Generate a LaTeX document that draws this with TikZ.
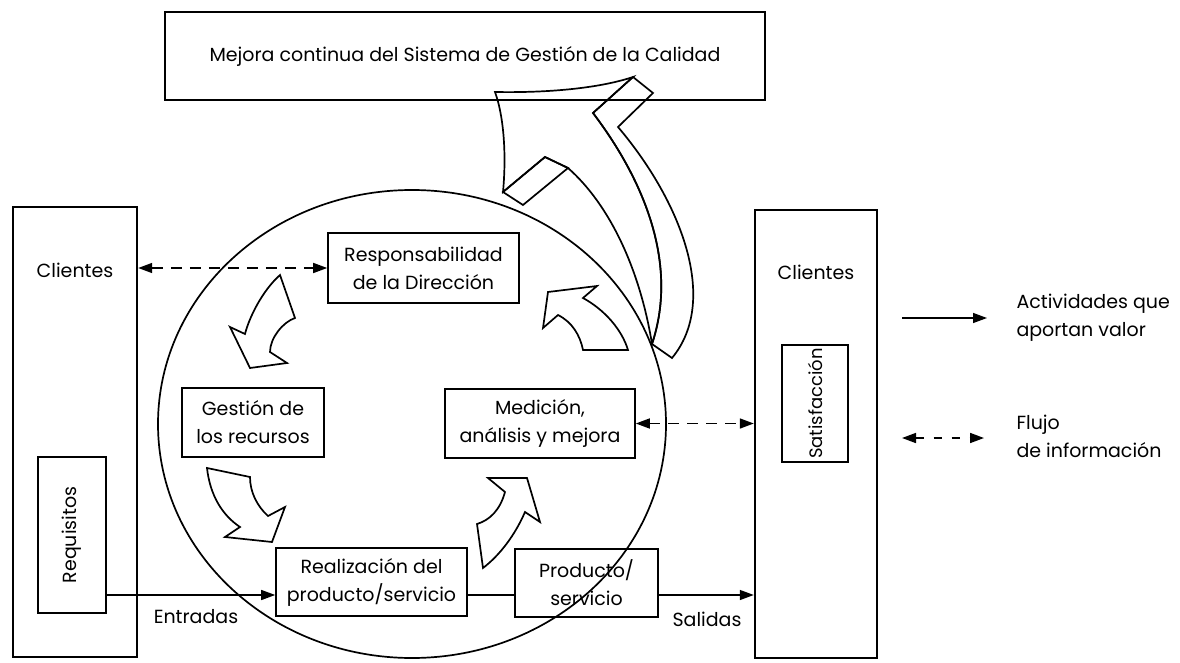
\documentclass[tikz,border=0pt]{standalone}
\usepackage{fontspec}
\setmainfont{Poppins}
\usetikzlibrary{arrows.meta}

\begin{document}
\begin{tikzpicture}[x=1pt, y=-1pt,
        font=\fontsize{19}{28}\selectfont,
        box/.style={draw, line width=1.6pt, align=center, inner sep=0pt},
        client/.style={draw, line width=2.4pt, inner sep=0pt},
        block/.style={draw, line width=1.7pt, fill=white},
        ribbon/.style={draw, line width=1.7pt},
        flow/.style={line width=1.4pt, -{Triangle[length=14pt, width=10pt]}},
        info/.style={line width=1.6pt, dash pattern=on 11pt off 8pt,
            {Triangle[length=14pt, width=10pt]}-{Triangle[length=14pt, width=10pt]}}]
    \useasboundingbox (0,0) rectangle (1180,663);

    % big arrow towards continual improvement
    \path[ribbon] (633,77) -- (653,93) -- (618,127) .. controls (680,200) and (720,300) .. (672,358)
        -- (652,344) .. controls (680,260) and (640,175) .. (593,113) -- cycle;
    \path[ribbon] (495,92) .. controls (550,93) and (600,88) .. (633,77) -- (593,113)
        .. controls (640,175) and (680,260) .. (652,344) .. controls (640,270) and (610,205) .. (568,168)
        -- (545,157) -- (503,192) .. controls (506,160) and (505,120) .. cycle;
    \path[ribbon] (503,192) -- (545,157) -- (568,168) -- (523,205) -- cycle;

    \node[box, minimum width=600pt, minimum height=88pt] (mejora) at (465,56) {Mejora continua del Sistema de Gestión de la Calidad};

    % customers
    \node[client, minimum width=124pt, minimum height=450pt] (cliL) at (75,432) {};
    \node (cliLtxt) at (75,270) {Clientes};
    \node[box, rotate=90, minimum width=156pt, minimum height=68pt] (req) at (72,535) {Requisitos};
    \node[client, minimum width=122pt, minimum height=448pt] (cliR) at (816,434) {};
    \node (cliRtxt) at (816,272) {Clientes};
    \node[box, rotate=90, minimum width=117pt, minimum height=66pt, font=\fontsize{18}{20}\selectfont] (sat) at (815,403.5) {Satisfacción};

    % processes
    \node[box, minimum width=191pt, minimum height=70pt] (resp) at (423.5,268) {Responsabilidad\\de la Dirección};
    \node[box, minimum width=142pt, minimum height=69pt] (gest) at (253,422.5) {Gestión de\\los recursos};
    \node[box, minimum width=190pt, minimum height=69pt] (medi) at (540,423.5) {Medición,\\análisis y mejora};
    \node[box, minimum width=191pt, minimum height=68pt] (real) at (371.5,582) {Realización del\\producto/servicio};
    \node[box, minimum width=143pt, minimum height=68pt] (prod) at (586.5,583) {Producto/\\servicio};

    % cycle arrows
    \draw[block] (280,275) -- (295,318) .. controls (283,322) and (270,338) .. (270,352) -- (287,363)
        -- (250,368) -- (230,327) -- (245,334) .. controls (249,318) and (262,291) .. cycle;
    \draw[block] (207,468) -- (250,477) .. controls (250,492) and (257,506) .. (268,516) -- (285,507)
        -- (272,542) -- (225,537) -- (240,527) .. controls (222,515) and (210,495) .. cycle;
    \draw[block] (477,524) -- (483,568) .. controls (500,555) and (515,535) .. (525,512) -- (540,522)
        -- (527,478) -- (488,478) -- (505,492) .. controls (500,510) and (490,520) .. cycle;
    \draw[block] (548,292) -- (597,286) -- (583,298) .. controls (605,310) and (622,330) .. (628,350)
        -- (583,350) .. controls (580,335) and (572,322) .. (558,315) -- (543,328) -- cycle;

    % flows
    \coordinate (lvl) at (0,595);
    \draw[info] (cliL.east |- resp.west) -- (resp.west);
    \draw[info] (medi.east) -- (medi.east -| cliR.west);
    \draw[flow] (req.south |- lvl) -- (real.west |- lvl);
    \draw[line width=1.4pt] (real.east |- lvl) -- (prod.west |- lvl);
    \draw[flow] (prod.east |- lvl) -- (cliR.west |- lvl);
    \node (entradas) at (196,617) {Entradas};
    \node (salidas) at (707,619) {Salidas};

    % legend
    \coordinate (legA) at (902,318);
    \coordinate (legB) at (987,318);
    \coordinate (legC) at (902,438);
    \coordinate (legD) at (984,438);
    \draw[flow] (legA) -- (legB);
    \draw[info, dash pattern=on 8pt off 10pt] (legC) -- (legD);
    \node[anchor=west, align=left] (actv) at (1013,318) {Actividades que\\aportan valor};
    \node[anchor=west, align=left] (fluj) at (1013,436) {Flujo\\de información};

    % system circle
    \draw[line width=1.7pt] (412,424) ellipse [x radius=254, y radius=234];
\end{tikzpicture}
\end{document}
